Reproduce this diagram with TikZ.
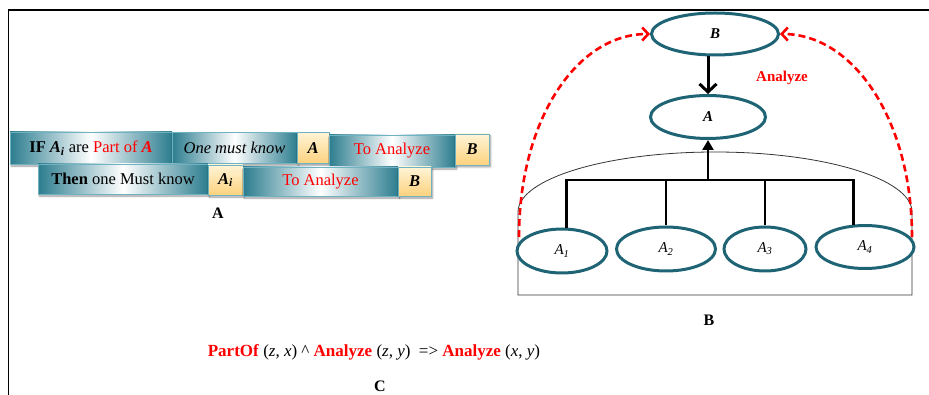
\documentclass[tikz,border=0pt]{standalone}
\usepackage{fontspec}
\setmainfont{Liberation Serif}
\usepackage{tikz}
\usetikzlibrary{shapes.geometric}
\usetikzlibrary{shadows.blur}
\usetikzlibrary{arrows.meta}
\definecolor{boxteal}{HTML}{2C7D8F}
\definecolor{boxedge}{HTML}{6FB3C2}
\definecolor{goldtop}{HTML}{FFF4D6}
\definecolor{goldbot}{HTML}{FCD27E}
\definecolor{ringteal}{HTML}{1E6474}

\begin{document}
\begin{tikzpicture}[x=1pt,y=1pt,font=\fontsize{16.5}{19}\selectfont,
  tealbox/.style={draw=boxedge, line width=0.8pt, left color=boxteal, right color=boxteal,
    middle color=white, inner sep=0pt,
    blur shadow={shadow xshift=1.5pt, shadow yshift=-2pt, shadow blur steps=6}},
  goldbox/.style={draw=boxedge, line width=0.8pt, top color=goldtop, bottom color=goldbot,
    inner sep=0pt, blur shadow={shadow xshift=1.5pt, shadow yshift=-2pt, shadow blur steps=6}},
  concept/.style={ellipse, draw=ringteal, fill=white, line width=3pt, inner sep=0pt,
    font=\fontsize{15}{18}\selectfont\itshape},
  tree/.style={line width=2.8pt},
  analyze/.style={red, line width=2.6pt, dash pattern=on 7pt off 4pt,
    -{Straight Barb[length=6pt,width=13pt]}}]

\useasboundingbox (0,0) rectangle (929,-395);

% frame
\draw[line width=1.8pt] (8.5,-395) -- (8.5,-10) -- (929,-10);

% ==================== Part A: rule boxes ====================
\begin{scope}
  % first row
  \node[tealbox, minimum width=162, minimum height=32] (ifbox) at (91,-148)
    {\textbf{IF \textit{A}\textsubscript{\textit{i}}} are {\color{red}Part of \textbf{\textit{A}}}};
  \node[tealbox, minimum width=125, minimum height=31] (know1) at (234.5,-148)
    {\textit{One must know}};
  \node[goldbox, minimum width=32, minimum height=31] (a1) at (313,-148) {\textbf{\textit{A}}};
  \node[tealbox, minimum width=126, minimum height=32] (ana1) at (392,-151)
    {\color{red}To Analyze};
  \node[goldbox, minimum width=34, minimum height=31] (b1) at (472,-149.5) {\textbf{\textit{B}}};

  % second row
  \node[tealbox, minimum width=170, minimum height=30] (thenbox) at (123,-179)
    {\textbf{Then} one Must know};
  \node[goldbox, minimum width=35, minimum height=30] (ai) at (225.5,-180)
    {\textbf{\textit{A}\textsubscript{\textit{i}}}};
  \node[tealbox, minimum width=155, minimum height=29] (ana2) at (320.5,-181.5)
    {\color{red}To Analyze};
  \node[goldbox, minimum width=33, minimum height=29] (b2) at (414.5,-181.5) {\textbf{\textit{B}}};

  \node[font=\fontsize{16}{18}\selectfont\bfseries] (capA) at (218,-213) {A};
\end{scope}

% ==================== Part B: concept tree ====================
\begin{scope}
  % enclosure
  \draw[line width=0.8pt, black!80] (518,-295) -- (518,-212)
    arc[start angle=180, end angle=0, x radius=197, y radius=60] -- (912,-295) -- cycle;

  % concepts
  \node[concept, minimum width=127, minimum height=42] (B) at (715,-34) {\textbf{B}};
  \node[concept, minimum width=115, minimum height=43] (A) at (708,-117) {\textbf{A}};
  \node[concept, minimum width=90, minimum height=44] (A1) at (562,-251) {A\textsubscript{1}};
  \node[concept, minimum width=99, minimum height=44] (A2) at (666,-249) {A\textsubscript{2}};
  \node[concept, minimum width=82, minimum height=44] (A3) at (765,-249) {A\textsubscript{3}};
  \node[concept, minimum width=98, minimum height=43] (A4) at (865,-247) {A\textsubscript{4}};

  % tree
  \coordinate (bus) at (708,-180);
  \draw[tree] (A1.80) |- (bus) -| (A4.118);
  \draw[tree] (A2.north) -- (A2.north |- bus);
  \draw[tree] (A3.north) -- (A3.north |- bus);
  \draw[tree, -{Triangle[length=10pt,width=11pt]}] (bus) -- (A.south);
  \draw[tree, line width=3pt, -{Straight Barb[length=8pt,width=17pt]}] (A.north |- B.south) -- (A.north);

  % analyze arcs
  \coordinate (startL) at (519,-237);
  \coordinate (startR) at (912,-237);
  \draw[analyze] (startL) .. controls +(0,116) and +(-74,0) .. (B.west);
  \draw[analyze] (startR) .. controls +(0,116) and +(74,0) .. (B.east);
  \node[red, font=\fontsize{15}{18}\selectfont\bfseries] (analbl) at (782,-78) {Analyze};

  \node[font=\fontsize{16}{18}\selectfont\bfseries] (capB) at (709,-320) {B};
\end{scope}

% ==================== Part C: rule ====================
\node[font=\fontsize{17}{19}\selectfont] (rule) at (374,-352)
  {{\color{red}\textbf{PartOf}} (\textit{z}, \textit{x}) \textasciicircum{} {\color{red}\textbf{Analyze}}
   (\textit{z}, \textit{y})\ \ => {\color{red}\textbf{Analyze}} (\textit{x}, \textit{y})};
\node[font=\fontsize{16}{18}\selectfont\bfseries] (capC) at (380,-386) {C};

\end{tikzpicture}
\end{document}
